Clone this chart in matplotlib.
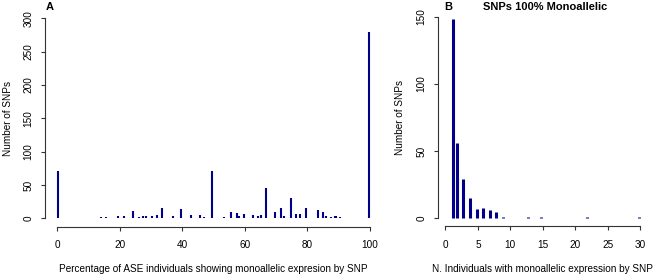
import matplotlib
matplotlib.use('Agg')
import matplotlib.pyplot as plt

plt.rcParams['font.family'] = ['Liberation Sans', 'DejaVu Sans']

# Panel A: percentage of ASE individuals showing monoallelic expression per SNP
pct_a = [0.3, 3.2, 5, 7, 9, 10.5, 12.2, 13.8, 15.4, 17.5, 19.5, 21.3, 24.2, 26, 27.3, 28.4, 30.3, 31.7,
         33.3, 35.5, 36.9, 39.5, 42.8, 44.4, 45.5, 47, 49.5, 53.2, 55.5, 57.4, 58.2, 59.6, 62.5, 64.1,
         65.2, 66.6, 69.5, 71.4, 72.5, 74.6, 76.4, 77.5, 79.4, 81.8, 83.4, 85, 85.9, 87.7, 88.7, 89.3,
         90.4, 91.4, 93, 99.8]
count_a = [71, 1, 1, 1, 1, 1, 1, 2, 2, 1, 4, 3, 11, 2, 4, 3, 3, 5,
           16, 1, 3, 14, 5, 1, 5, 2, 71, 2, 9, 8, 4, 6, 5, 3,
           5, 46, 9, 15, 4, 31, 7, 7, 16, 1, 12, 10, 3, 2, 3, 3,
           2, 1, 1, 279]

# Panel B: number of individuals with monoallelic expression (SNPs 100% monoallelic)
n_ind_b = [1.2, 1.74, 2.75, 3.8, 4.8, 5.8, 6.8, 7.8, 8.8, 12.8, 14.8, 21.8, 29.9]
count_b = [148, 56, 29, 15, 7, 8, 6, 5, 1, 1, 1, 1, 1]

bar_color = '#00008B'
W, H = 657, 275

fig = plt.figure(figsize=(6.57, 2.75), dpi=100)


def px_axes(left, top, right, bottom):
    return fig.add_axes([left / W, 1 - bottom / H, (right - left) / W, (bottom - top) / H])


def r_style(ax, xmax, ymax, xticks, yticks):
    # mimic base R axes: detached axis lines spanning the tick range
    for s in ['top', 'right']:
        ax.spines[s].set_visible(False)
    ax.spines['left'].set_bounds(yticks[0], yticks[-1])
    ax.spines['bottom'].set_bounds(xticks[0], xticks[-1])
    for s in ['left', 'bottom']:
        ax.spines[s].set_color('#333333')
        ax.spines[s].set_linewidth(0.8)
    ax.set_xlim(-0.04 * xmax, 1.04 * xmax)
    ax.set_ylim(-0.04 * ymax, 1.04 * ymax)
    ax.set_xticks(xticks)
    ax.set_yticks(yticks)
    ax.tick_params(axis='both', length=3.2, width=0.8, color='#333333', labelsize=7.2)
    ax.tick_params(axis='x', pad=6.5)
    ax.tick_params(axis='y', pad=5)
    for lab in ax.get_yticklabels():
        lab.set_rotation(90)
        lab.set_va('center')


# Panel A
ax1 = px_axes(45, 10.3, 382.4, 226.5)
ax1.vlines(pct_a, 0, count_a, color=bar_color, linewidth=1.5, capstyle='butt')
r_style(ax1, 100, 300, [0, 20, 40, 60, 80, 100], [0, 50, 100, 150, 200, 250, 300])
ax1.set_xlabel('Percentage of ASE individuals showing monoallelic expresion by SNP', fontsize=7.2, labelpad=10)
ax1.set_ylabel('Number of SNPs', fontsize=7.2)
ax1.yaxis.set_label_coords(-32 / 337.4, 0.5)
fig.text(50 / W, 1 - 7 / H, 'A', fontsize=8, fontweight='bold', ha='center', va='center')

# Panel B
ax2 = px_axes(437.7, 8.6, 647.8, 226.4)
ax2.vlines(n_ind_b, 0, count_b, color=bar_color, linewidth=2.2, capstyle='butt')
r_style(ax2, 30, 150, [0, 5, 10, 15, 20, 25, 30], [0, 50, 100, 150])
ax2.set_xlabel('N. Individuals with monoallelic expression by SNP', fontsize=7.2, labelpad=10)
ax2.set_ylabel('Number of SNPs', fontsize=7.2)
ax2.yaxis.set_label_coords(-33 / 210.1, 0.5)
fig.text(448 / W, 1 - 7 / H, 'B', fontsize=8, fontweight='bold', ha='center', va='center')
fig.text(545 / W, 1 - 7 / H, 'SNPs 100% Monoallelic', fontsize=8, fontweight='bold', ha='center', va='center')

fig.savefig('out.png', dpi=100)
